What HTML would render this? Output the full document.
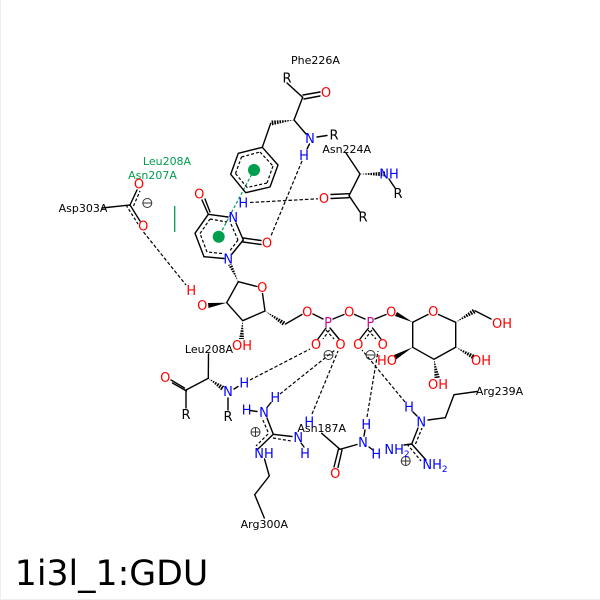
<!DOCTYPE html>
<html><head><meta charset="utf-8"><style>
html,body{margin:0;padding:0;background:#fff}
svg{display:block}
text{font-family:"DejaVu Sans",sans-serif;text-anchor:middle}
.a text{font-size:13px}
.l text{font-size:11px;fill:#000}
.b line,.b polyline,.b polygon{stroke:#000;stroke-width:1.4;fill:none;stroke-linecap:round;stroke-linejoin:round}
.d line{stroke:#000;stroke-width:1.2;stroke-dasharray:3 2;fill:none}
.h line{stroke:#000;stroke-width:1.2;stroke-dasharray:3.5 2;fill:none}
.w polygon{fill:#000}
.x line{stroke:#fff;stroke-width:7;stroke-dasharray:1 1.6}
.r text{fill:#f00}.n text{fill:#00f}.k text{fill:#000}.p text{fill:#d0078f}
</style></head><body>
<svg width="600" height="600" viewBox="0 0 600 600" xmlns="http://www.w3.org/2000/svg">
<rect x="0.5" y="-2" width="601" height="601.5" fill="#fff" stroke="#eee"/>

<!-- hashed bonds -->
<g class="w">
<polygon points="294,120 271,120.5 271.5,125.5"/>
<polygon points="360,174 385,171.5 385,176.5"/>
<polygon points="238.3,281.7 228,265 232,264"/>
<polygon points="242.7,320.7 239,339 244,339"/>
<polygon points="265,311 283.5,326 286,322"/>
<polygon points="455.7,322.3 473.5,308.5 476,313"/>
<polygon points="455.7,347.3 473,359.5 475,355"/>
<polygon points="434,359.3 434.5,378 440,378"/>
<polygon points="208.3,378.3 222,391 225,386.5"/>
</g>
<g class="x">
<line x1="295" y1="120" x2="270" y2="123"/>
<line x1="359" y1="174" x2="386" y2="174"/>
<line x1="238.5" y1="282.5" x2="229" y2="263"/>
<line x1="242.7" y1="321.5" x2="241.5" y2="340"/>
<line x1="264.5" y1="310.5" x2="285.5" y2="325"/>
<line x1="456.5" y1="322" x2="475" y2="310"/>
<line x1="455" y1="346.8" x2="474.5" y2="358"/>
<line x1="434" y1="360" x2="437.5" y2="379"/>
<line x1="207.8" y1="377.8" x2="224.5" y2="389.5"/>
</g>
<!-- solid wedges -->
<g class="w">
<polygon points="226.7,302.7 208,303 208.5,308"/>
<polygon points="412.7,322.3 397,312 395,316"/>
<polygon points="412.7,347.3 394,355 396,359.5"/>
</g>

<!-- green interactions -->
<circle cx="254" cy="170" r="6" fill="#009e4f"/>
<circle cx="218.7" cy="236.7" r="6" fill="#009e4f"/>
<line x1="254" y1="170" x2="218.7" y2="236.7" stroke="#009e4f" stroke-width="1.2" stroke-dasharray="3 2"/>
<line x1="174.7" y1="206" x2="174.7" y2="232" stroke="#009e4f" stroke-width="1.3"/>

<!-- bonds -->
<g class="b">
<line x1="287" y1="83" x2="302.7" y2="97.3"/>
<line x1="302.7" y1="97.3" x2="294" y2="120"/>
<line x1="303" y1="95" x2="320" y2="92"/>
<line x1="304" y1="99" x2="320" y2="96"/>
<line x1="294" y1="120" x2="306" y2="134"/>
<line x1="317" y1="137" x2="327" y2="135.5"/>
<line x1="309.5" y1="144" x2="307" y2="149"/>
<line x1="346" y1="153" x2="360" y2="174"/>
<line x1="360" y1="174" x2="349" y2="195.7"/>
<line x1="389" y1="179" x2="395" y2="188"/>
<line x1="349" y1="193.7" x2="331" y2="194.5"/>
<line x1="349" y1="197.7" x2="331" y2="198.5"/>
<line x1="349" y1="195.7" x2="360" y2="212"/>
<line x1="270.7" y1="123.3" x2="262.3" y2="147.3"/>
<polyline points="262.3,147.3 278,165 270,187 245.7,192.7 230.7,174.3 238.3,153.3 262.3,147.3"/>
<line x1="208.3" y1="214.3" x2="228" y2="217"/>
<line x1="236" y1="223" x2="243.3" y2="240"/>
<line x1="243.3" y1="240" x2="232" y2="254"/>
<line x1="224" y1="258.5" x2="204" y2="256.7"/>
<polyline points="204,256.7 195,233.3 208.3,214.3"/>
<line x1="208.3" y1="214.3" x2="202" y2="200"/>
<line x1="210" y1="212" x2="205" y2="199"/>
<line x1="243.3" y1="238" x2="261" y2="240.5"/>
<line x1="243" y1="242" x2="261" y2="244.5"/>
<line x1="102" y1="208" x2="130" y2="205"/>
<line x1="130" y1="205" x2="137" y2="190"/>
<line x1="130" y1="205" x2="140" y2="221"/>
<polyline points="238.3,281.7 257,286.5"/>
<polyline points="262.5,293.5 265,311 242.7,320.7 226.7,302.7 238.3,281.7"/>
<line x1="285.5" y1="324" x2="302" y2="314.5"/>
<line x1="313" y1="314" x2="323" y2="319"/>
<line x1="333" y1="319" x2="344" y2="314.5"/>
<line x1="354.5" y1="314.5" x2="365" y2="319"/>
<line x1="375" y1="319" x2="386" y2="314.5"/>
<line x1="326" y1="328" x2="318" y2="339"/>
<line x1="330" y1="328" x2="339" y2="339"/>
<line x1="368.5" y1="328" x2="360" y2="339"/>
<line x1="372.5" y1="328" x2="381" y2="339"/>
<polyline points="412.7,322.3 412.7,347.3 434,359.3 455.7,347.3 455.7,322.3 438.5,314.5"/>
<line x1="412.7" y1="322.3" x2="428" y2="314.5"/>
<line x1="475" y1="310.7" x2="491" y2="319"/>
<line x1="208.3" y1="378.3" x2="208.5" y2="354"/>
<line x1="208.3" y1="378.3" x2="186" y2="390"/>
<line x1="184.5" y1="388" x2="171" y2="380"/>
<line x1="186.5" y1="391" x2="172.5" y2="383"/>
<line x1="186" y1="390" x2="186" y2="408"/>
<line x1="228" y1="398" x2="228" y2="410"/>
<line x1="234" y1="389" x2="238" y2="386.5"/>
<line x1="250" y1="410.5" x2="257" y2="411.5"/>
<line x1="267" y1="407.5" x2="271" y2="402.5"/>
<line x1="273.3" y1="434.3" x2="267" y2="418"/>
<line x1="273.3" y1="434.3" x2="292" y2="436.5"/>
<line x1="273.3" y1="434.3" x2="258" y2="449"/>
<line x1="301" y1="443" x2="304" y2="447"/>
<polyline points="264.5,459 269.3,476 254.7,494.7 264.3,518"/>
<line x1="321.7" y1="433.3" x2="340" y2="449.3"/>
<line x1="340" y1="449.3" x2="357" y2="444.5"/>
<line x1="338.5" y1="449" x2="334" y2="467"/>
<line x1="342" y1="450" x2="338" y2="467.5"/>
<line x1="365" y1="430" x2="364" y2="436"/>
<line x1="369" y1="447" x2="373" y2="450"/>
<line x1="413" y1="412" x2="417" y2="416"/>
<line x1="428" y1="420" x2="445.3" y2="417.7"/>
<polyline points="445.3,417.7 454,394.7 477,391.5"/>
<line x1="411.7" y1="444" x2="418" y2="428"/>
<line x1="411.7" y1="444" x2="404" y2="445"/>
<line x1="411.7" y1="444" x2="426" y2="460"/>
</g>

<!-- dashed parallels / inner rings -->
<g class="d">
<line x1="260" y1="152" x2="273" y2="166"/>
<line x1="273" y1="166" x2="267" y2="183"/>
<line x1="267" y1="183" x2="247" y2="187.5"/>
<line x1="247" y1="187.5" x2="235.5" y2="173.5"/>
<line x1="235.5" y1="173.5" x2="241.5" y2="157"/>
<line x1="241.5" y1="157" x2="260" y2="152"/>
<line x1="210" y1="219" x2="227" y2="222"/>
<line x1="231" y1="224" x2="238" y2="240"/>
<line x1="238" y1="240" x2="229" y2="252"/>
<line x1="222" y1="253.5" x2="207" y2="252"/>
<line x1="207" y1="252" x2="200" y2="233.5"/>
<line x1="200" y1="233.5" x2="210" y2="219"/>
<line x1="133.5" y1="206" x2="140" y2="191"/>
<line x1="126" y1="205" x2="138" y2="224"/>
<line x1="329.5" y1="330" x2="323" y2="339"/>
<line x1="326" y1="330" x2="334" y2="339"/>
<line x1="372" y1="330" x2="365" y2="339"/>
<line x1="368" y1="330" x2="376" y2="339"/>
<line x1="268" y1="432" x2="262" y2="418"/>
<line x1="268" y1="434" x2="256" y2="446"/>
<line x1="273" y1="438" x2="291" y2="441"/>
<line x1="415.5" y1="444" x2="422" y2="428"/>
<line x1="407" y1="444" x2="421" y2="461"/>
</g>

<!-- H-bonds -->
<g class="h">
<line x1="143.5" y1="232" x2="186" y2="285"/>
<line x1="302" y1="161" x2="270.5" y2="237"/>
<line x1="250" y1="202.5" x2="318" y2="198.8"/>
<line x1="250" y1="380" x2="310" y2="349"/>
<line x1="280" y1="394" x2="335" y2="350"/>
<line x1="312" y1="414" x2="338" y2="351"/>
<line x1="367" y1="417" x2="378" y2="351"/>
<line x1="405" y1="402" x2="362" y2="350"/>
</g>

<!-- charges -->
<g fill="none" stroke="#333" stroke-width="1">
<circle cx="147.3" cy="203" r="4.5"/><line x1="143" y1="203" x2="151.6" y2="203"/>
<circle cx="328.5" cy="355" r="4.5"/><line x1="324" y1="355" x2="333" y2="355"/>
<circle cx="370.5" cy="355" r="4.5"/><line x1="366" y1="355" x2="375" y2="355"/>
<circle cx="255.5" cy="432" r="4.5"/><line x1="251" y1="432" x2="260" y2="432"/><line x1="255.5" y1="427.5" x2="255.5" y2="436.5"/>
<circle cx="405.7" cy="461" r="4.5"/><line x1="401" y1="461" x2="410" y2="461"/><line x1="405.7" y1="456.5" x2="405.7" y2="465.5"/>
</g>

<!-- residue labels -->
<g class="l">
<text x="315.5" y="64">Phe226A</text>
<text x="346.7" y="153">Asn224A</text>
<text x="83" y="212">Asp303A</text>
<text x="209" y="353">Leu208A</text>
<text x="499.5" y="395">Arg239A</text>
<text x="321.7" y="432">Asn187A</text>
<text x="264.3" y="528">Arg300A</text>
<text x="167" y="165" style="fill:#009e4f">Leu208A</text>
<text x="152.5" y="179" style="fill:#009e4f">Asn207A</text>
</g>

<!-- atoms -->
<g class="a">
<g class="k">
<text x="287" y="82.5">R</text><text x="334" y="139.5">R</text><text x="398" y="198">R</text><text x="363" y="221.5">R</text><text x="186" y="419">R</text><text x="228" y="421">R</text>
</g>
<g class="r">
<text x="326" y="97">O</text><text x="324" y="203">O</text><text x="199.3" y="198.5">O</text><text x="267" y="247.5">O</text>
<text x="139" y="188.5">O</text><text x="143.3" y="230.5">O</text><text x="191.3" y="295">H</text><text x="202.3" y="310">O</text>
<text x="262.3" y="292">O</text><text x="242" y="350">OH</text><text x="307.3" y="316.5">O</text><text x="349.3" y="316.5">O</text><text x="391.3" y="316.5">O</text>
<text x="316" y="349">O</text><text x="340.5" y="349">O</text><text x="358.3" y="349">O</text><text x="382.7" y="349">O</text>
<text x="433.3" y="316">O</text><text x="502" y="328">OH</text><text x="481" y="365">OH</text><text x="438" y="389">OH</text><text x="387" y="365">HO</text>
<text x="165.3" y="382">O</text><text x="335.3" y="478">O</text>
</g>
<g class="n">
<text x="310" y="143">N</text><text x="304" y="160">H</text><text x="389" y="178.5">NH</text>
<text x="243.3" y="207.5">H</text><text x="233.3" y="222">N</text><text x="228.3" y="263.5">N</text>
<text x="228" y="396">N</text><text x="244.3" y="387.5">H</text><text x="275.3" y="402">H</text><text x="264" y="417">N</text><text x="246.7" y="414.5">H</text>
<text x="298.3" y="442">N</text><text x="305" y="458">H</text><text x="264" y="458">NH</text><text x="309.3" y="426.5">H</text>
<text x="363" y="447">N</text><text x="366.3" y="429">H</text><text x="376.3" y="458.5">H</text>
<text x="409" y="411.5">H</text><text x="421.3" y="426.5">N</text>
<text x="397" y="454">NH<tspan font-size="9" dy="3">2</tspan></text>
<text x="435" y="469">NH<tspan font-size="9" dy="3">2</tspan></text>
</g>
<g class="p">
<text x="328" y="327">P</text><text x="370.3" y="327">P</text>
</g>
</g>

<text x="111.5" y="585" font-size="34.7" fill="#000">1i3l_1:GDU</text>
</svg>
</body></html>
